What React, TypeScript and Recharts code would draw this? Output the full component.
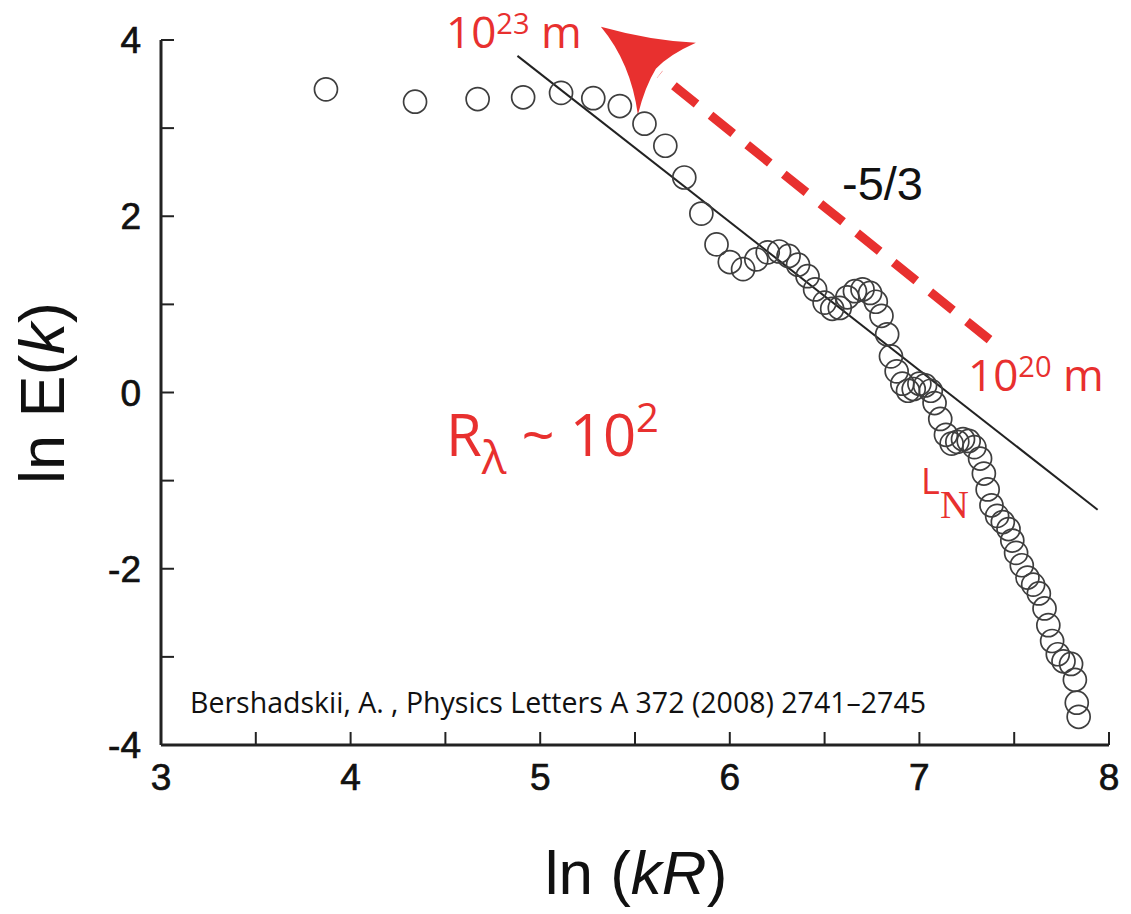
import React from 'react';
import {
  ScatterChart,
  Scatter,
  XAxis,
  YAxis,
  ReferenceLine,
  ReferenceDot,
} from 'recharts';

// ln(kR) positions of the spectrum points
const lnKR = [
  3.87, 4.34, 4.67, 4.91, 5.11, 5.28, 5.42, 5.55, 5.66, 5.76,
  5.85, 5.93, 6.0, 6.07, 6.14, 6.2, 6.26, 6.31, 6.36, 6.41,
  6.45, 6.5, 6.54, 6.58, 6.62, 6.66, 6.7, 6.74, 6.77, 6.8,
  6.83, 6.85, 6.88, 6.91, 6.94, 6.97, 7.0, 7.03, 7.06, 7.08,
  7.11, 7.14, 7.17, 7.2, 7.23, 7.26, 7.29, 7.32, 7.34, 7.36,
  7.38, 7.41, 7.44, 7.47, 7.49, 7.51, 7.54, 7.57, 7.6, 7.63,
  7.66, 7.68, 7.7, 7.73, 7.76, 7.8, 7.82, 7.83, 7.84,
];

// ln E(k) for each of the points above
const lnE = [
  3.44, 3.3, 3.33, 3.35, 3.4, 3.34, 3.25, 3.05, 2.8, 2.44,
  2.03, 1.68, 1.48, 1.4, 1.51, 1.59, 1.6, 1.55, 1.45, 1.32,
  1.17, 1.02, 0.95, 0.96, 1.08, 1.15, 1.17, 1.13, 1.03, 0.87,
  0.66, 0.41, 0.24, 0.1, 0.02, 0.04, 0.1, 0.08, 0.02, -0.12,
  -0.3, -0.48, -0.58, -0.56, -0.53, -0.55, -0.62, -0.75, -0.92, -1.1,
  -1.28, -1.4, -1.47, -1.55, -1.68, -1.82, -1.96, -2.1, -2.18, -2.28,
  -2.45, -2.64, -2.82, -2.97, -3.05, -3.08, -3.26, -3.52, -3.68,
];

// -5/3 power law fit
const fitLine = [
  { x: 4.88, y: 3.82 },
  { x: 7.94, y: -1.33 },
];

// red scale arrow (10^20 m -> 10^23 m)
const arrowShaft = [
  { x: 7.37, y: 0.6 },
  { x: 5.63, y: 3.61 },
];
const arrowTip = { x: 5.32, y: 4.15 };

const xTicks = [3, 3.5, 4, 4.5, 5, 5.5, 6, 6.5, 7, 7.5, 8];
const yTicks = [-4, -3, -2, -1, 0, 1, 2, 3, 4];

const points = lnKR.map((x, i) => ({ x, y: lnE[i] }));

const RED = '#e8302f';
const SANS = '"Liberation Sans", Arial, sans-serif';
const HUMANIST = '"Open Sans", "Noto Sans", sans-serif';

function RingDot(props: { cx?: number; cy?: number }) {
  const { cx, cy } = props;
  if (cx == null || cy == null) return null;
  return <circle cx={cx} cy={cy} r={11.5} fill="none" stroke="#3e3e3e" strokeWidth={1.7} />;
}

function ArrowHead(props: { cx?: number; cy?: number }) {
  const { cx, cy } = props;
  if (cx == null || cy == null) return null;
  return (
    <path
      transform={`translate(${cx},${cy})`}
      d="M0 0 Q50 14 95 16 Q68 28 55 42 Q44 60 37 88 Q30 36 0 0 Z"
      fill={RED}
    />
  );
}

const tickStyle = { fontSize: 37, fill: '#111', fontFamily: SANS, stroke: '#111', strokeWidth: 0.7 };

export default function App() {
  return (
    <div style={{ position: 'absolute', left: 0, top: 0, width: 1131, height: 914, background: '#fff' }}>
      <ScatterChart width={1131} height={914} margin={{ top: 40, right: 22, bottom: 0, left: 0 }}>
        <XAxis
          type="number"
          dataKey="x"
          domain={[3, 8]}
          ticks={xTicks}
          height={169}
          tickSize={-13}
          tickMargin={32}
          tickFormatter={(v: number) => (Number.isInteger(v) ? String(v) : '')}
          axisLine={{ stroke: '#222', strokeWidth: 3 }}
          tickLine={{ stroke: '#222', strokeWidth: 2 }}
          tick={tickStyle}
          interval={0}
        />
        <YAxis
          type="number"
          dataKey="y"
          domain={[-4, 4]}
          ticks={yTicks}
          width={161}
          tickSize={-13}
          tickMargin={33}
          tickFormatter={(v: number) => (v % 2 === 0 ? String(v) : '')}
          axisLine={{ stroke: '#222', strokeWidth: 3 }}
          tickLine={{ stroke: '#222', strokeWidth: 2 }}
          tick={tickStyle}
          interval={0}
        />
        <ReferenceLine
          segment={arrowShaft}
          stroke={RED}
          strokeWidth={9}
          strokeDasharray="29 18"
          ifOverflow="visible"
        />
        <ReferenceDot x={arrowTip.x} y={arrowTip.y} ifOverflow="visible" shape={ArrowHead} />
        <ReferenceLine segment={fitLine} stroke="#222" strokeWidth={2} ifOverflow="visible" />
        <Scatter data={points} shape={RingDot} isAnimationActive={false} />
      </ScatterChart>

      <svg
        width={1131}
        height={914}
        style={{ position: 'absolute', left: 0, top: 0, pointerEvents: 'none' }}
      >
        <text x={446} y={48} fill={RED} fontSize={44} fontFamily={HUMANIST}>
          10
          <tspan dy={-14} fontSize={29}>23</tspan>
          <tspan dy={14}> m</tspan>
        </text>
        <text x={842} y={200} fill="#111" fontSize={47} fontFamily={SANS}>
          -5/3
        </text>
        <text x={968} y={391} fill={RED} fontSize={44} fontFamily={HUMANIST}>
          10
          <tspan dy={-14} fontSize={29}>20</tspan>
          <tspan dy={14}> m</tspan>
        </text>
        <text x={446} y={456} fill={RED} fontSize={58} fontFamily={HUMANIST}>
          R
          <tspan dy={18} fontSize={46}>λ</tspan>
          <tspan dy={-18}> ~ 10</tspan>
          <tspan dy={-24} fontSize={40}>2</tspan>
        </text>
        <text x={921} y={494} fill={RED} fontSize={36} fontFamily={HUMANIST}>
          L
        </text>
        <text x={940} y={518} fill={RED} fontSize={40} fontFamily='"Liberation Serif", serif'>
          N
        </text>
        <text
          x={190}
          y={713}
          fill="#111"
          fontSize={29}
          fontFamily={HUMANIST}
          textLength={736}
          lengthAdjust="spacingAndGlyphs"
        >
          Bershadskii, A. , Physics Letters A 372 (2008) 2741–2745
        </text>
        <text x={636} y={894} fill="#111" fontSize={62} fontFamily={SANS} textAnchor="middle">
          ln (<tspan fontStyle="italic">kR</tspan>)
        </text>
        <text
          x={0}
          y={0}
          transform="translate(64,393) rotate(-90)"
          fill="#111"
          fontSize={63}
          fontFamily={SANS}
          textAnchor="middle"
        >
          ln E(<tspan fontStyle="italic">k</tspan>)
        </text>
      </svg>
    </div>
  );
}
